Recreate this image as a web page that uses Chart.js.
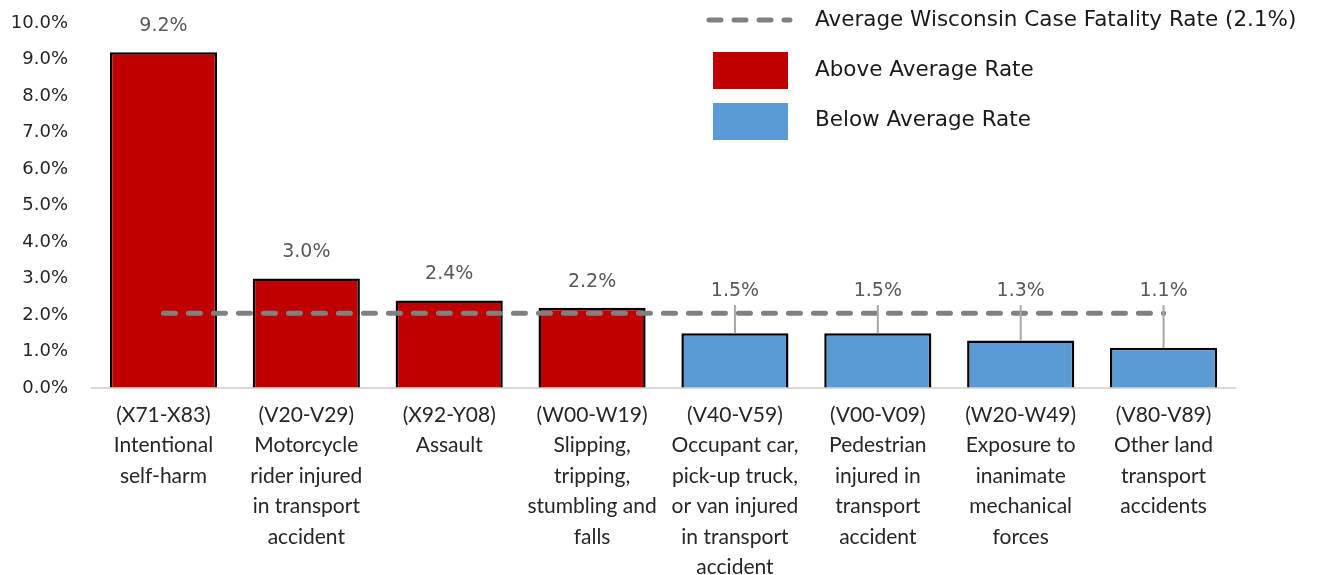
<!DOCTYPE html>
<html>
<head>
<meta charset="utf-8">
<script src="https://cdn.jsdelivr.net/npm/chart.js@4"></script>
<style>
  html, body { margin: 0; padding: 0; background: #fff; }
  #wrap { width: 1318px; height: 575px; }
</style>
</head>
<body>
<div id="wrap"><canvas id="chart" width="1318" height="575"></canvas></div>
<script>
// categories (ICD code + cause), multi-line
const categories = [
    ["(X71-X83)", "Intentional", "self-harm"],
    ["(V20-V29)", "Motorcycle", "rider injured", "in transport", "accident"],
    ["(X92-Y08)", "Assault"],
    ["(W00-W19)", "Slipping,", "tripping,", "stumbling and", "falls"],
    ["(V40-V59)", "Occupant car,", "pick-up truck,", "or van injured", "in transport", "accident"],
    ["(V00-V09)", "Pedestrian", "injured in", "transport", "accident"],
    ["(W20-W49)", "Exposure to", "inanimate", "mechanical", "forces"],
    ["(V80-V89)", "Other land", "transport", "accidents"]
];
const fatalityRates = [9.2, 3.0, 2.4, 2.2, 1.5, 1.5, 1.3, 1.1];
const averageRate = 2.05;
const averageLabel = "Average Wisconsin Case Fatality Rate (2.1%)";
const aboveLabel = "Above Average Rate";
const belowLabel = "Below Average Rate";

const RED = '#C00000';
const BLUE = '#5B9BD5';
const LINE_GRAY = '#808080';
const valueFont = '19px "DejaVu Sans"';

const barColors = fatalityRates.map(v => v > averageRate ? RED : BLUE);

// value labels above bars, with leader lines for bars under the average line
const valueLabels = {
    id: 'valueLabels',
    afterDatasetsDraw(chart) {
        const c = chart.ctx;
        const meta = chart.getDatasetMeta(1);
        const lineY = chart.scales.y.getPixelForValue(averageRate);
        c.save();
        c.font = valueFont;
        c.fillStyle = '#595959';
        c.textAlign = 'center';
        c.textBaseline = 'middle';
        meta.data.forEach((bar, i) => {
            const v = fatalityRates[i];
            let y = bar.y - 26;
            if (v <= averageRate) {
                y = lineY - 22;
                c.strokeStyle = '#A6A6A6';
                c.lineWidth = 2;
                c.beginPath();
                c.moveTo(bar.x, y + 14);
                c.lineTo(bar.x, bar.y);
                c.stroke();
            }
            c.fillText(v.toFixed(1) + '%', bar.x, y);
        });
        c.restore();
    }
};

// legend drawn by hand at top right
const customLegend = {
    id: 'customLegend',
    afterDraw(chart) {
        const c = chart.ctx;
        c.save();
        // dashed line
        c.strokeStyle = LINE_GRAY;
        c.lineWidth = 5;
        c.lineCap = 'round';
        c.setLineDash([12, 13]);
        c.beginPath();
        c.moveTo(709, 20);
        c.lineTo(790, 20);
        c.stroke();
        c.setLineDash([]);
        // boxes
        c.fillStyle = RED;
        c.fillRect(713, 52, 75, 37);
        c.fillStyle = BLUE;
        c.fillRect(713, 103, 75, 37);
        // texts
        c.font = '21.5px "DejaVu Sans"';
        c.fillStyle = '#1a1a1a';
        c.textAlign = 'left';
        c.textBaseline = 'middle';
        c.fillText(averageLabel, 815, 20);
        c.fillText(aboveLabel, 815, 70);
        c.fillText(belowLabel, 815, 120);
        c.restore();
    }
};

new Chart(document.getElementById('chart'), {
    data: {
        labels: categories,
        datasets: [
            {
                type: 'line',
                label: averageLabel,
                data: categories.map(() => averageRate),
                borderColor: LINE_GRAY,
                borderWidth: 5,
                borderDash: [12, 13],
                borderCapStyle: 'round',
                pointRadius: 0,
                fill: false,
                order: 0
            },
            {
                type: 'bar',
                label: 'Rate',
                data: fatalityRates,
                backgroundColor: barColors,
                borderColor: '#000',
                borderWidth: 2.5,
                categoryPercentage: 1.0,
                barPercentage: 0.75,
                order: 1
            }
        ]
    },
    options: {
        responsive: false,
        animation: false,
        devicePixelRatio: 1,
        layout: { padding: { top: 23, right: 83, left: 0, bottom: 0 } },
        plugins: {
            legend: { display: false },
            tooltip: { enabled: false }
        },
        scales: {
            x: {
                grid: { display: false },
                border: { display: true, color: '#D9D9D9', width: 2 },
                ticks: {
                    color: '#262626',
                    font: { family: 'Lato', size: 21, lineHeight: 1.447 },
                    padding: 4,
                    maxRotation: 0,
                    autoSkip: false
                },
                afterFit(s) { s.height = 187; }
            },
            y: {
                min: 0,
                max: 10,
                // invisible tick marks push the labels away from the plot
                grid: { display: true, drawOnChartArea: false, drawTicks: true, tickLength: 24, color: 'rgba(0,0,0,0)' },
                border: { display: false },
                ticks: {
                    stepSize: 1,
                    color: '#262626',
                    font: { family: 'DejaVu Sans', size: 18 },
                    padding: 0,
                    callback: v => v.toFixed(1) + '%'
                },
                afterFit(s) { s.width = 92; }
            }
        }
    },
    plugins: [valueLabels, customLegend]
});
</script>
</body>
</html>
